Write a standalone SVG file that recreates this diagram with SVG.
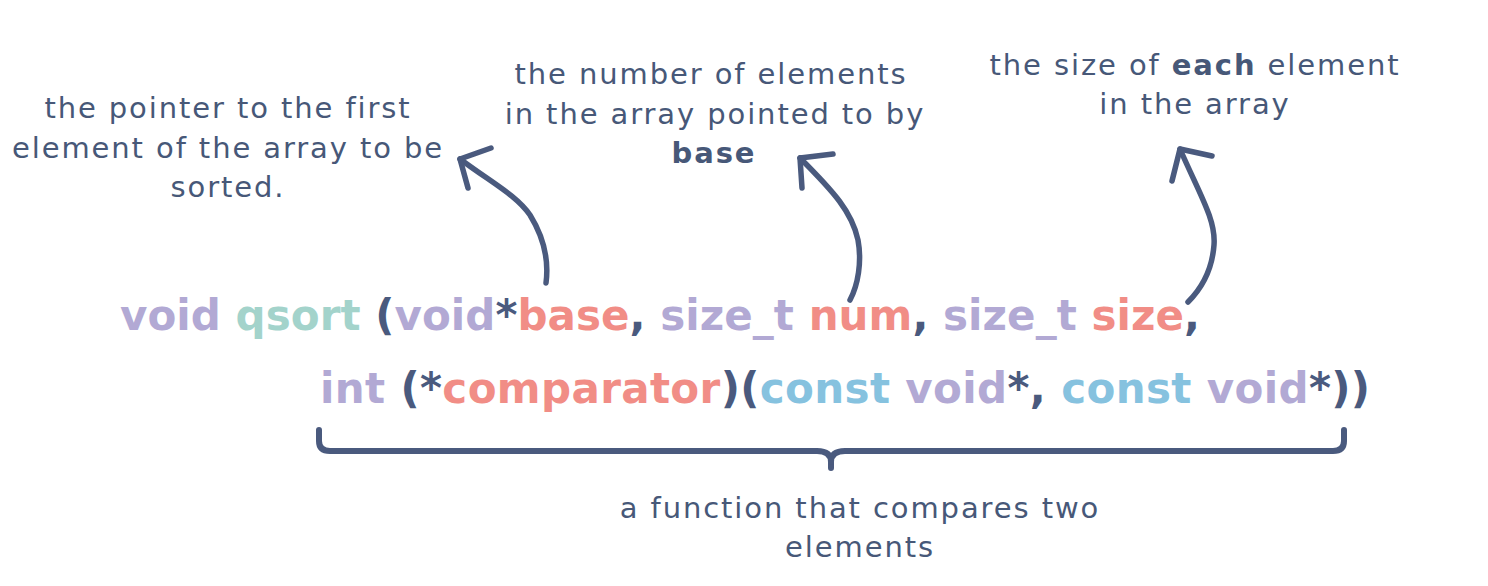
<svg xmlns="http://www.w3.org/2000/svg" width="1488" height="586" viewBox="0 0 1488 586">
  <style>
    .lbl { font-family: "DejaVu Sans", Verdana, sans-serif; font-size: 29px; letter-spacing: 1.9px; fill: #475878; text-anchor: middle; }
    .b { font-weight: bold; }
    .code { font-family: "DejaVu Sans", Verdana, sans-serif; font-size: 42px; font-weight: bold; white-space: pre; }
    .kw { fill: #b2a9d4; }
    .fn { fill: #a3d3cb; }
    .nm { fill: #f18d86; }
    .pn { fill: #4a5a7e; }
    .cs { fill: #86c2df; }
    .stroke { fill: none; stroke: #4a5a7e; stroke-width: 5.5; stroke-linecap: round; stroke-linejoin: round; }
  </style>
  <rect width="1488" height="586" fill="#ffffff"/>

  <g id="label-base">
    <text class="lbl" x="228" y="118">the pointer to the first</text>
    <text class="lbl" x="228" y="158">element of the array to be</text>
    <text class="lbl" x="228" y="197">sorted.</text>
  </g>

  <g id="label-num">
    <text class="lbl" x="711" y="84">the number of elements</text>
    <text class="lbl" x="715" y="124">in the array pointed to by</text>
    <text class="lbl b" x="714" y="163">base</text>
  </g>

  <g id="label-size">
    <text class="lbl" x="1195" y="75">the size of <tspan class="b">each</tspan> element</text>
    <text class="lbl" x="1195" y="114">in the array</text>
  </g>

  <g id="code">
    <text class="code" x="120" y="330" textLength="1080" lengthAdjust="spacing"><tspan class="kw">void</tspan> <tspan class="fn">qsort</tspan> <tspan class="pn">(</tspan><tspan class="kw">void</tspan><tspan class="pn">*</tspan><tspan class="nm">base</tspan><tspan class="pn">,</tspan> <tspan class="kw">size_t</tspan> <tspan class="nm">num</tspan><tspan class="pn">,</tspan> <tspan class="kw">size_t</tspan> <tspan class="nm">size</tspan><tspan class="pn">,</tspan></text>
    <text class="code" x="320" y="403" textLength="1050" lengthAdjust="spacing"><tspan class="kw">int</tspan> <tspan class="pn">(*</tspan><tspan class="nm">comparator</tspan><tspan class="pn">)(</tspan><tspan class="cs">const</tspan> <tspan class="kw">void</tspan><tspan class="pn">*,</tspan> <tspan class="cs">const</tspan> <tspan class="kw">void</tspan><tspan class="pn">*))</tspan></text>
  </g>

  <g id="label-comparator">
    <text class="lbl" x="860" y="518">a function that compares two</text>
    <text class="lbl" x="860" y="557">elements</text>
  </g>

  <g id="connectors">
    <path class="stroke" d="M546,283 C549,260 543,236 530,215 C516,195 492,183 460,159"/>
    <path class="stroke" d="M491,148 L460,159 L468,188"/>
    <path class="stroke" d="M850,300 C858,285 862,262 858,240 C852,212 834,192 800,158"/>
    <path class="stroke" d="M833,154 L800,158 L802,188"/>
    <path class="stroke" d="M1188,302 C1200,290 1212,272 1214,245 C1216,220 1200,195 1180,149"/>
    <path class="stroke" d="M1212,156 L1180,149 L1172,181"/>
    <path class="stroke" style="stroke-width:6" d="M319,430 V441 Q319,451 330,451 H817 Q831,451 831,462 V468"/>
    <path class="stroke" style="stroke-width:6" d="M1344,430 V441 Q1344,451 1333,451 H845 Q831,451 831,462"/>
  </g>
</svg>
